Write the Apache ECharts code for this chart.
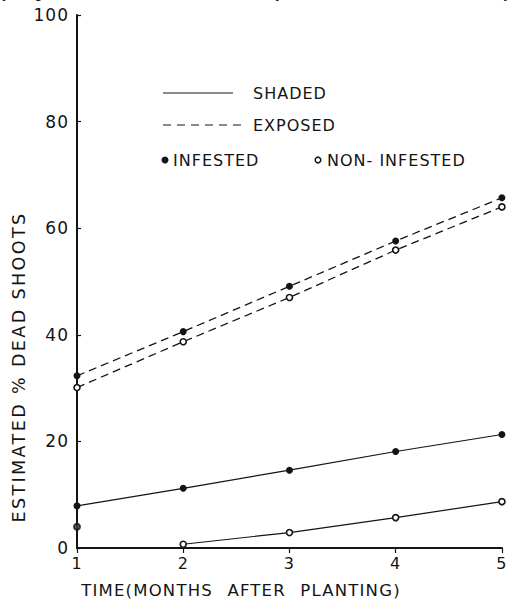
<!DOCTYPE html>
<html>
<head>
<meta charset="utf-8">
<script src="https://cdn.jsdelivr.net/npm/echarts@6/dist/echarts.min.js"></script>
<style>
  html, body { margin: 0; padding: 0; background: #fff; }
  #chart { width: 510px; height: 602px; }
  text { letter-spacing: 1px; }
  text[style*="17.5px"] { letter-spacing: 2.4px; }
  text[style*="16.5px"] { letter-spacing: 1.2px; word-spacing: 8px; }
</style>
</head>
<body>
<div id="chart"></div>
<script>
// ---- data ----
const months = [1, 2, 3, 4, 5];
const exposedInfested    = [32.3, 40.6, 49.1, 57.6, 65.7];
const exposedNonInfested = [30.1, 38.7, 47.0, 55.9, 64.0];
const shadedInfested     = [7.9, 11.2, 14.6, 18.1, 21.3];
const shadedNonInfested  = [4.0, 0.7, 2.9, 5.7, 8.7]; // month-1 point is not joined to the line
const yTicks = [0, 20, 40, 60, 80, 100];
const xTicks = [1, 2, 3, 4, 5];
const topWords = ['dying', 'shoots', 'where', 'they', 'initiate', 'secondary'];
const topWordX = [-9, 88, 166, 243, 326, 418];
const yTitle = 'ESTIMATED % DEAD SHOOTS';
const xTitle = 'TIME(MONTHS AFTER PLANTING)';

const INK = '#141414';
const FONT = 'DejaVu Sans';

function pairs(xs, ys) { return xs.map((x, i) => [x, ys[i]]); }

const filledSym = { symbol: 'circle', symbolSize: 7, itemStyle: { color: INK, borderColor: INK, borderWidth: 0 } };
const openSym = { symbol: 'circle', symbolSize: 6, itemStyle: { color: '#fff', borderColor: INK, borderWidth: 1.6 } };

const chart = echarts.init(document.getElementById('chart'), null, { renderer: 'svg' });

const graphic = [];
topWords.forEach((w, i) => {
  graphic.push({ type: 'text', left: topWordX[i], top: -14, z: 10,
    style: { text: w, font: '16px "Liberation Mono"', fill: INK } });
});
graphic.push(
  { type: 'line', shape: { x1: 163, y1: 93, x2: 233, y2: 93 }, style: { stroke: INK, lineWidth: 1.2 } },
  { type: 'text', x: 253, y: 93, style: { text: 'SHADED', fontFamily: FONT, fontSize: 16, fill: INK, verticalAlign: 'middle' } },
  { type: 'line', shape: { x1: 163, y1: 125, x2: 242, y2: 125 }, style: { stroke: INK, lineWidth: 1.2, lineDash: [8, 6] } },
  { type: 'text', x: 253, y: 125, style: { text: 'EXPOSED', fontFamily: FONT, fontSize: 16, fill: INK, verticalAlign: 'middle' } },
  { type: 'circle', shape: { cx: 165, cy: 160, r: 3.5 }, style: { fill: INK } },
  { type: 'text', x: 173, y: 160, style: { text: 'INFESTED', fontFamily: FONT, fontSize: 16, fill: INK, verticalAlign: 'middle' } },
  { type: 'circle', shape: { cx: 318, cy: 160, r: 2.8 }, style: { fill: '#fff', stroke: INK, lineWidth: 1.6 } },
  { type: 'text', x: 327, y: 160, style: { text: 'NON- INFESTED', fontFamily: FONT, fontSize: 16, fill: INK, verticalAlign: 'middle' } },
  { type: 'text', x: 19, y: 367, rotation: Math.PI / 2,
    style: { text: yTitle, fontFamily: FONT, fontSize: 17.5, fill: INK, align: 'center', verticalAlign: 'middle' } },
  { type: 'text', x: 241, y: 590,
    style: { text: xTitle, fontFamily: FONT, fontSize: 16.5, fill: INK, align: 'center', verticalAlign: 'middle' } }
);

chart.setOption({
  backgroundColor: '#fff',
  animation: false,
  grid: { left: 77, right: 6, top: 15, bottom: 54, containLabel: false },
  xAxis: {
    type: 'value', min: 1, max: 5, interval: 1,
    axisLine: { show: true, onZero: false, lineStyle: { color: INK, width: 2 } },
    axisTick: { show: true, inside: false, length: 5, lineStyle: { color: INK, width: 1.2 } },
    splitLine: { show: false },
    axisLabel: { color: INK, fontFamily: FONT, fontSize: 16, margin: 7,
      formatter: v => xTicks.includes(v) ? String(v) : '' }
  },
  yAxis: {
    type: 'value', min: 0, max: 100, interval: 20,
    axisLine: { show: true, onZero: false, lineStyle: { color: INK, width: 2 } },
    axisTick: { show: true, inside: true, length: 4, lineStyle: { color: INK, width: 1.2 } },
    splitLine: { show: false },
    axisLabel: { color: INK, fontFamily: FONT, fontSize: 17, margin: 8,
      formatter: v => yTicks.includes(v) ? String(v) : '' }
  },
  graphic: graphic,
  series: [
    Object.assign({ type: 'line', name: 'Exposed infested', data: pairs(months, exposedInfested),
      lineStyle: { color: INK, width: 1.3, type: [8, 5] }, z: 3 }, filledSym),
    Object.assign({ type: 'line', name: 'Exposed non-infested', data: pairs(months, exposedNonInfested),
      lineStyle: { color: INK, width: 1.3, type: [8, 5] }, z: 3 }, openSym),
    Object.assign({ type: 'line', name: 'Shaded infested', data: pairs(months, shadedInfested),
      lineStyle: { color: INK, width: 1.2 }, z: 3 }, filledSym),
    Object.assign({ type: 'line', name: 'Shaded non-infested', data: pairs(months.slice(1), shadedNonInfested.slice(1)),
      lineStyle: { color: INK, width: 1.2 }, z: 3 }, openSym),
    Object.assign({ type: 'scatter', name: 'Shaded non-infested month 1', data: [[months[0], shadedNonInfested[0]]], z: 4 },
      openSym, { itemStyle: { color: '#444', borderColor: INK, borderWidth: 2 } })
  ]
});
</script>
</body>
</html>
